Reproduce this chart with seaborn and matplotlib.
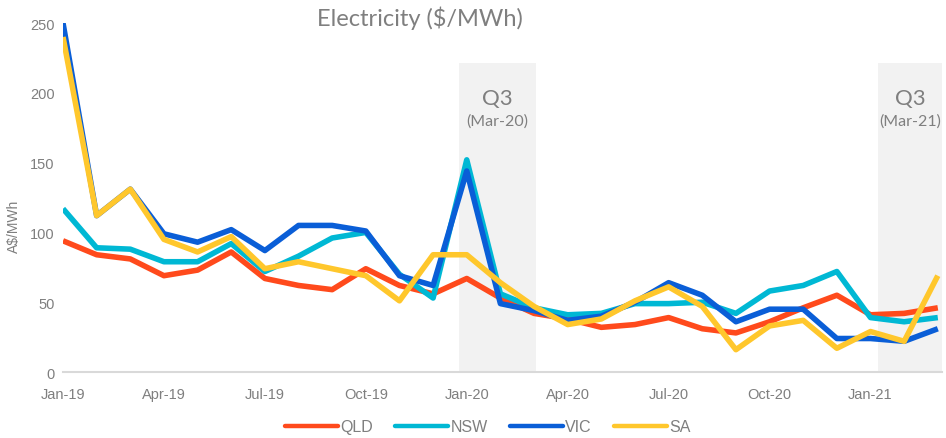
import numpy as np
import pandas as pd
import matplotlib
matplotlib.use("Agg")
import matplotlib.pyplot as plt
import seaborn as sns

# Monthly average spot prices, Jan-19 .. Mar-21
months = ["Jan-19", "Feb-19", "Mar-19", "Apr-19", "May-19", "Jun-19", "Jul-19", "Aug-19", "Sep-19",
          "Oct-19", "Nov-19", "Dec-19", "Jan-20", "Feb-20", "Mar-20", "Apr-20", "May-20", "Jun-20",
          "Jul-20", "Aug-20", "Sep-20", "Oct-20", "Nov-20", "Dec-20", "Jan-21", "Feb-21", "Mar-21"]
qld = [94, 84, 81, 69, 73, 86, 67, 62, 59, 74, 62, 56, 67, 53, 42, 38, 32, 34, 39, 31, 28, 36, 46, 55, 41, 42, 46]
nsw = [117, 89, 88, 79, 79, 92, 72, 83, 96, 100, 70, 53, 152, 56, 46, 41, 42, 49, 49, 50, 42, 58, 62, 72, 39, 36, 39]
vic = [250, 112, 131, 99, 93, 102, 87, 105, 105, 101, 69, 62, 144, 49, 44, 37, 40, 50, 64, 55, 36, 45, 45, 24, 24, 22, 31]
sa = [240, 112, 131, 95, 86, 97, 74, 79, 74, 69, 51, 84, 84, 64, 47, 34, 38, 51, 61, 47, 16, 33, 37, 17, 29, 22, 69]

tick_months = ["Jan-19", "Apr-19", "Jul-19", "Oct-19", "Jan-20", "Apr-20", "Jul-20", "Oct-20", "Jan-21"]
shaded = [("Q3", "(Mar-20)", 11.77, 14.06), ("Q3", "(Mar-21)", 24.22, 26.12)]

colors = {"QLD": "#FF4A1C", "NSW": "#00B8D4", "VIC": "#0A5ED7", "SA": "#FFC72C"}

df = pd.DataFrame({"idx": range(len(months)), "QLD": qld, "NSW": nsw, "VIC": vic, "SA": sa})
long = df.melt(id_vars="idx", var_name="State", value_name="Price")

sns.set_theme(style="white")
plt.rcParams["font.family"] = ["Liberation Sans", "DejaVu Sans"]

fig = plt.figure(figsize=(9.46, 4.39), dpi=100)
ax = fig.add_axes([0.0666, 0.1503, 0.929, 0.795])

grey = "#7F7F7F"
for q, lab, x0, x1 in shaded:
    ax.axvspan(x0, x1, ymin=0, ymax=221 / 250, color="#F2F2F2", lw=0, zorder=0)
    xc = (x0 + x1) / 2
    ax.text(xc, 196, q, ha="center", va="center", fontsize=16, color=grey, family="Lato")
    ax.text(xc, 180, lab, ha="center", va="center", fontsize=11.5, color=grey, family="Lato")

sns.lineplot(data=long, x="idx", y="Price", hue="State", palette=colors, lw=4,
             solid_capstyle="butt", ax=ax, legend=True, zorder=3)

ax.set_xlim(0, 26.12)
ax.set_ylim(0, 250)
ax.set_yticks(range(0, 251, 50))
ax.set_xticks([months.index(m) for m in tick_months])
ax.set_xticklabels(tick_months)
ax.tick_params(axis="both", labelsize=10.5, colors=grey, length=0, pad=6)
ax.tick_params(axis="x", length=5, color="#D9D9D9", width=1.2)
ax.set_xlabel("")
ax.set_ylabel("A$/MWh", fontsize=10, color=grey, labelpad=2)
ax.yaxis.set_label_coords(-0.048, 0.42)

for s in ["top", "right", "left"]:
    ax.spines[s].set_visible(False)
ax.spines["bottom"].set_color("#D9D9D9")
ax.spines["bottom"].set_linewidth(1.5)

fig.text(420 / 946, 1 - 18 / 439, "Electricity ($/MWh)", ha="center", va="center",
         fontsize=17, color=grey, family="Lato")

handles, labels = ax.get_legend_handles_labels()
for h in handles:
    h.set_linewidth(3.2)
    h.set_solid_capstyle("round")
ax.legend(handles, labels, loc="center", bbox_to_anchor=(488 / 946, 1 - 428 / 439),
          bbox_transform=fig.transFigure, ncol=4, frameon=False, fontsize=11.5,
          handlelength=3.3, handletextpad=0.15, columnspacing=1.4, labelcolor=grey)

fig.savefig("out.png", dpi=100)
